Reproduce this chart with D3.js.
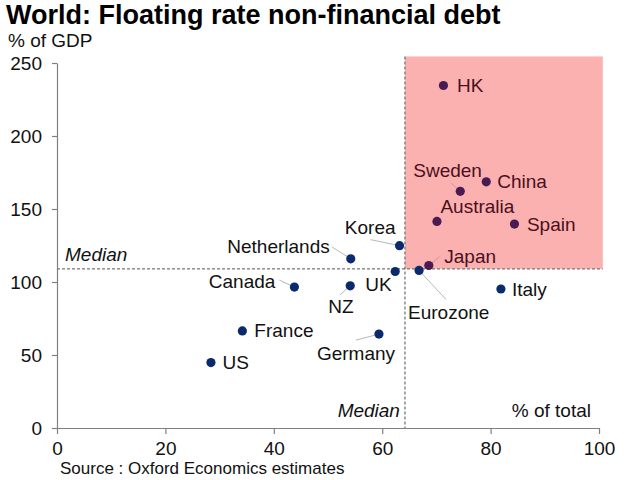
<!DOCTYPE html>
<html>
<head>
<meta charset="utf-8">
<script src="https://cdn.jsdelivr.net/npm/d3@7"></script>
<style>
  html, body { margin: 0; padding: 0; background: #fff; }
  svg { display: block; font-family: "Liberation Sans", Arial, sans-serif; }
</style>
</head>
<body>
<svg id="chart" width="640" height="480"></svg>
<script>
// ---- Data ----
const countries = ["HK","China","Sweden","Australia","Spain","Japan","Korea","Eurozone","UK","Netherlands","NZ","Canada","Italy","Germany","France","US"];
const floatingShare = [71.3, 79.2, 74.4, 70.1, 84.4, 68.6, 63.2, 66.8, 62.4, 54.2, 54.1, 43.8, 81.9, 59.4, 34.2, 28.4]; // % of total
const debtToGDP    = [234.6, 168.6, 162.1, 141.5, 139.7, 111.3, 124.9, 107.9, 107.2, 115.9, 97.4, 96.5, 95.2, 64.3, 66.5, 44.8]; // % of GDP
const medianShare = 64.2;
const medianDebt = 109;
const highlightMax = [100.7, 254.5]; // top-right corner of the shaded quadrant
const xTicks = [0, 20, 40, 60, 80, 100];
const yTicks = [0, 50, 100, 150, 200, 250];

// ---- Label layout (pixel offsets from each dot) ----
const labelLayout = {
  "HK":          {dx: 13.5, dy: 6.5, anchor: "start"},
  "China":       {dx: 11,   dy: 6.5, anchor: "start"},
  "Spain":       {dx: 12.5, dy: 6.5, anchor: "start"},
  "Italy":       {dx: 11,   dy: 6.5, anchor: "start"},
  "France":      {dx: 12,   dy: 6.5, anchor: "start"},
  "US":          {dx: 11.5, dy: 6.5, anchor: "start"},
  "Sweden":      {dx: -47,  dy: -14, anchor: "start", lead: [-9, -8]},
  "Australia":   {dx: 3.5,  dy: -8,  anchor: "start"},
  "Japan":       {dx: 15.5, dy: -3,  anchor: "start", lead: [11, -9]},
  "Korea":       {dx: -4,   dy: -12, anchor: "end",   lead: [-29, -6]},
  "Netherlands": {dx: -21,  dy: -6,  anchor: "end",   lead: [-19, -12]},
  "Canada":      {dx: -19,  dy: 1,   anchor: "end",   lead: [-15, -7]},
  "NZ":          {dx: -22,  dy: 27,  anchor: "start", lead: [-10, 9]},
  "UK":          {dx: -30,  dy: 20,  anchor: "start"},
  "Eurozone":    {dx: -11,  dy: 49,  anchor: "start", lead: [27, 29]},
  "Germany":     {dx: -62,  dy: 26,  anchor: "start", lead: [-23, 6]}
};

const svg = d3.select("#chart");
const x = d3.scaleLinear().domain([0, 100]).range([57, 599]);
const y = d3.scaleLinear().domain([0, 250]).range([428, 63]);

const axisColor = "#808080";
const fontSize = 19;

// Shaded quadrant
svg.append("rect")
  .attr("x", x(medianShare))
  .attr("y", y(highlightMax[1]))
  .attr("width", x(highlightMax[0]) - x(medianShare))
  .attr("height", y(medianDebt) - y(highlightMax[1]))
  .attr("fill", "#fbb1b0");

// Axes
const yAxis = svg.append("g")
  .attr("transform", `translate(${x(0)},0)`)
  .call(d3.axisLeft(y).tickValues(yTicks).tickSize(5).tickSizeOuter(0).tickPadding(10));
const xAxis = svg.append("g")
  .attr("transform", `translate(0,${y(0)})`)
  .call(d3.axisBottom(x).tickValues(xTicks).tickSize(6).tickSizeOuter(0).tickPadding(8));
[yAxis, xAxis].forEach(g => {
  g.select(".domain").attr("stroke", axisColor).attr("stroke-width", 1.2);
  g.selectAll(".tick line").attr("stroke", axisColor).attr("stroke-width", 1.2);
  g.selectAll(".tick text").attr("fill", "#111").style("font-size", fontSize + "px")
    .style("font-family", '"Liberation Sans", Arial, sans-serif');
});

// Median lines
svg.append("line")
  .attr("x1", x(0)).attr("x2", x(highlightMax[0]))
  .attr("y1", y(medianDebt)).attr("y2", y(medianDebt))
  .attr("stroke", "#777").attr("stroke-width", 1.3).attr("stroke-dasharray", "3,2");
svg.append("line")
  .attr("x1", x(medianShare)).attr("x2", x(medianShare))
  .attr("y1", y(highlightMax[1])).attr("y2", y(0))
  .attr("stroke", "#777").attr("stroke-width", 1.3).attr("stroke-dasharray", "3,2");

// Median texts
svg.append("text").attr("x", x(0) + 8).attr("y", y(medianDebt) - 8)
  .attr("font-style", "italic").attr("font-size", fontSize).attr("fill", "#111").text("Median");
svg.append("text").attr("x", x(medianShare) - 5).attr("y", 417)
  .attr("text-anchor", "end")
  .attr("font-style", "italic").attr("font-size", fontSize).attr("fill", "#111").text("Median");
svg.append("text").attr("x", 591).attr("y", 417)
  .attr("text-anchor", "end").attr("font-size", fontSize).attr("fill", "#111").text("% of total");

// Points
const pts = countries.map((c, i) => ({name: c, xv: floatingShare[i], yv: debtToGDP[i]}));
const inQuad = d => d.xv > medianShare && d.yv > medianDebt;

// leader lines
svg.append("g").selectAll("line")
  .data(pts.filter(d => labelLayout[d.name].lead))
  .join("line")
  .attr("x1", d => x(d.xv)).attr("y1", d => y(d.yv))
  .attr("x2", d => x(d.xv) + labelLayout[d.name].lead[0])
  .attr("y2", d => y(d.yv) + labelLayout[d.name].lead[1])
  .attr("stroke", d => inQuad(d) ? "#c89a9a" : "#b8b8b8")
  .attr("stroke-width", 1);

svg.append("g").selectAll("circle")
  .data(pts)
  .join("circle")
  .attr("cx", d => x(d.xv)).attr("cy", d => y(d.yv))
  .attr("r", 4.6)
  .attr("fill", d => inQuad(d) ? "#4a1a55" : "#0b2a6e");

svg.append("g").selectAll("text")
  .data(pts)
  .join("text")
  .attr("x", d => x(d.xv) + labelLayout[d.name].dx)
  .attr("y", d => y(d.yv) + labelLayout[d.name].dy)
  .attr("text-anchor", d => labelLayout[d.name].anchor)
  .attr("font-size", fontSize)
  .attr("fill", d => inQuad(d) ? "#4a1020" : "#111")
  .text(d => d.name);

// Titles
svg.append("text").attr("x", 6).attr("y", 24)
  .attr("font-size", 27).attr("font-weight", "bold").attr("fill", "#000")
  .text("World: Floating rate non-financial debt");
svg.append("text").attr("x", 8).attr("y", 47)
  .attr("font-size", fontSize).attr("fill", "#111").text("% of GDP");
svg.append("text").attr("x", 60).attr("y", 474)
  .attr("font-size", 17).attr("fill", "#111").text("Source : Oxford Economics estimates");
</script>
</body>
</html>
